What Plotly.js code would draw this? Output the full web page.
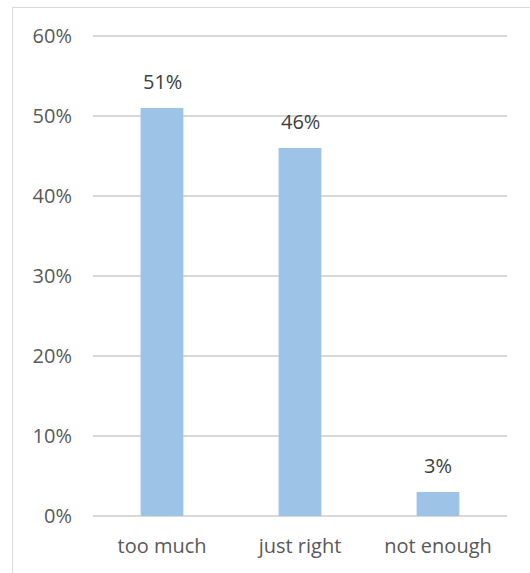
<!DOCTYPE html>
<html>
<head>
<meta charset="utf-8">
<script src="https://cdn.plot.ly/plotly-3.0.1.min.js"></script>
<style>
  html, body { margin: 0; padding: 0; background: #fff; overflow: hidden; }
  #frame { position: absolute; left: 12px; top: 7px; width: 600px; height: 600px; border: 1.3px solid #d9d9d9; box-sizing: border-box; }
  #chart { position: absolute; left: 0; top: 0; width: 530px; height: 573px; }
</style>
</head>
<body>
<div id="frame"></div>
<div id="chart"></div>
<script>
const categories = ["too much", "just right", "not enough"];
const values = [0.51, 0.46, 0.03];
const labels = ["51%", "46%", "3%"];

const fontFamily = "'Open Sans', 'Liberation Sans', sans-serif";

const trace = {
  type: "bar",
  x: categories,
  y: values,
  marker: { color: "#9DC3E6" },
  hoverinfo: "none"
};

const annotations = categories.map((c, i) => ({
  x: c, y: values[i], xref: "x", yref: "y",
  text: labels[i], showarrow: false,
  yanchor: "bottom", yshift: 11,
  font: { family: fontFamily, size: 20, color: "#404040" }
}));

const layout = {
  width: 530, height: 573,
  margin: { l: 93, r: 23, t: 35, b: 57 },
  paper_bgcolor: "rgba(0,0,0,0)",
  plot_bgcolor: "rgba(0,0,0,0)",
  bargap: 0.69,
  showlegend: false,
  font: { family: fontFamily, size: 20, color: "#595959" },
  xaxis: {
    type: "category",
    showgrid: false, showline: false, zeroline: false,
    ticks: "", ticklabelstandoff: 16,
    tickfont: { family: fontFamily, size: 20, color: "#595959" },
    fixedrange: true
  },
  yaxis: {
    range: [0, 0.6013],
    dtick: 0.1, tick0: 0,
    tickformat: ".0%",
    showgrid: true, gridcolor: "#d9d9d9", gridwidth: 1.3,
    zeroline: true, zerolinecolor: "#d9d9d9", zerolinewidth: 1.3,
    showline: false, ticks: "", ticklabelstandoff: 20,
    tickfont: { family: fontFamily, size: 20, color: "#595959" },
    fixedrange: true
  },
  annotations: annotations
};

Plotly.newPlot("chart", [trace], layout, { displayModeBar: false, staticPlot: true });
</script>
</body>
</html>
